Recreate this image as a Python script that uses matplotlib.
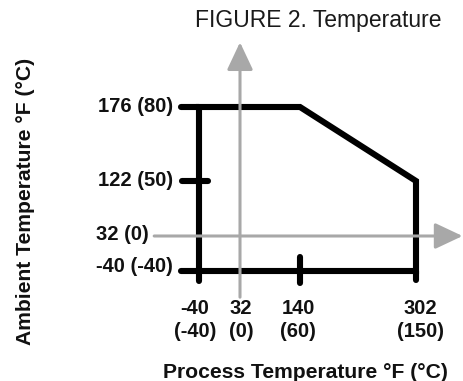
import numpy as np
import matplotlib
matplotlib.use("Agg")
import matplotlib.pyplot as plt
from matplotlib.scale import FuncScale

plt.rcParams['font.family'] = ['Liberation Sans', 'DejaVu Sans']

# Operating envelope (deg F)
env_process_f = [-40, -40, 140, 302, 302, -40]
env_ambient_f = [-40, 176, 176, 122, -40, -40]

# Tick values, F with C in brackets
process_f = [-40, 32, 140, 302]
process_c = [-40, 0, 60, 150]
ambient_f = [-40, 32, 122, 176]
ambient_c = [-40, 0, 50, 80]

# The drawing is not to scale: where each tick value sits (pixels)
x_anchor_px = [199, 240, 300, 416]
y_anchor_px = [110, 145, 200, 274]   # measured from the bottom

W, H = 463, 381


def piecewise(v, xs, ys):
    v = np.asarray(v, dtype=float)
    out = np.interp(v, xs, ys)
    s0 = (ys[1] - ys[0]) / (xs[1] - xs[0])
    s1 = (ys[-1] - ys[-2]) / (xs[-1] - xs[-2])
    out = np.where(v < xs[0], ys[0] + (v - xs[0]) * s0, out)
    out = np.where(v > xs[-1], ys[-1] + (v - xs[-1]) * s1, out)
    return out


def make_scale(vals, px):
    fwd = lambda v: piecewise(v, vals, px)
    inv = lambda p: piecewise(p, px, vals)
    return fwd, inv


fig = plt.figure(figsize=(W / 100, H / 100), dpi=100)
ax = fig.add_axes([0, 0, 1, 1])
ax.axis('off')

xf, xi = make_scale(process_f, x_anchor_px)
yf, yi = make_scale(ambient_f, y_anchor_px)
ax.set_xscale(FuncScale(ax, (xf, xi)))
ax.set_yscale(FuncScale(ax, (yf, yi)))
ax.set_xlim(float(xi(0)), float(xi(W)))
ax.set_ylim(float(yi(0)), float(yi(H)))

gray = '#a8a8a8'
lw_env = 4.4

# gray reference axes through 32 F / 32 F
arrow = dict(arrowstyle='-|>,head_length=0.85,head_width=0.4', color=gray,
             lw=2.2, shrinkA=0, shrinkB=0, mutation_scale=20)
ax.annotate('', xy=(32, 0.889), xytext=(32, 0.22),
            xycoords=ax.get_xaxis_transform(), arrowprops=arrow)
ax.annotate('', xy=(0.999, 32), xytext=(0.333, 32),
            xycoords=ax.get_yaxis_transform(), arrowprops=arrow)

# envelope
ax.plot(env_process_f, env_ambient_f, color='black', lw=lw_env,
        solid_joinstyle='miter', solid_capstyle='butt')

# tick marks (offsets in pixels)
tick = dict(arrowstyle='-', color='black', lw=lw_env, shrinkA=0, shrinkB=0)
def tick_mark(x, y, a, b):
    ax.annotate('', xy=(x, y), xytext=a, xycoords='data',
                textcoords='offset pixels', arrowprops=tick)
    if b is not None:
        ax.annotate('', xy=(x, y), xytext=b, xycoords='data',
                    textcoords='offset pixels', arrowprops=tick)

tick_mark(-40, 176, (-18, 0), None)
tick_mark(-40, 122, (-17, 0), (9, 0))
tick_mark(-40, -40, (-18, 0), (0, -10))
tick_mark(140, -40, (0, 14), (0, -12))
tick_mark(302, -40, (0, -9), None)

bold = dict(fontsize=14.5, fontweight='bold', color='#111111')
label = dict(bold, fontsize=15.2)

# ambient labels
y_lab_dx = [-26, -50, -26, -26]
y_lab_dy = [5, 2, 1, 0]
for f, c, dx, dy in zip(ambient_f, ambient_c, y_lab_dx, y_lab_dy):
    ax.annotate(f'{f} ({c})', xy=(-40, f), xytext=(dx, dy),
                textcoords='offset pixels', ha='right', va='center', **bold)

# process labels
x_lab_dx = [-4, 1, -2, 4]
for f, c, dx in zip(process_f, process_c, x_lab_dx):
    ax.annotate(f'{f}\n({c})', xy=(f, -40), xytext=(dx, -28),
                textcoords='offset pixels', ha='center', va='top',
                linespacing=1.25, **bold)

fig.text(305 / W, 1 - 372 / H, 'Process Temperature °F (°C)',
         ha='center', va='center', **label)
fig.text(25.5 / W, 1 - 201.5 / H, 'Ambient Temperature °F (°C)',
         ha='center', va='center', rotation=90, **label)
fig.text(318 / W, 1 - 21 / H, 'FIGURE 2. Temperature',
         ha='center', va='center', fontsize=16.5, color='#1a1a1a')

fig.savefig('out.png', dpi=100)
